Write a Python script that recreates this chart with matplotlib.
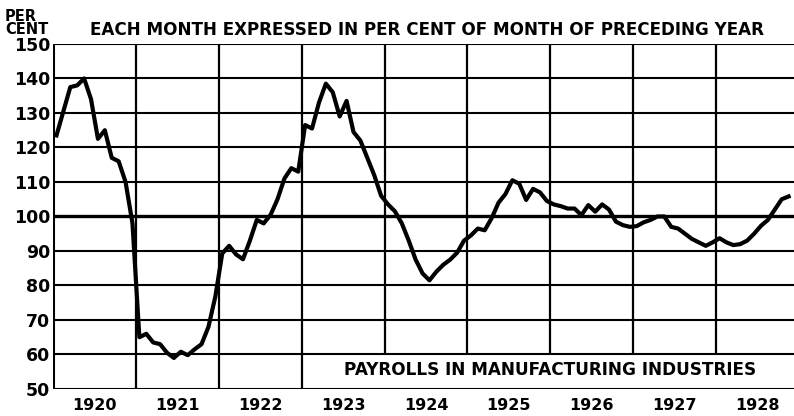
import matplotlib.pyplot as plt
import numpy as np

# monthly payrolls, each month in per cent of same month of preceding year
# Jan 1920 .. Nov 1928
payrolls = [
    123.5, 130.5, 137.5, 138, 140, 134, 122.5, 125, 117, 116, 110, 98,       # 1920
    65, 66, 63.5, 63, 60.5, 59, 60.8, 59.8, 61.5, 63, 68, 76.8,              # 1921
    89.3, 91.5, 89, 87.6, 93, 99, 98, 100.5, 105, 111, 114, 113,             # 1922
    126.5, 125.5, 133, 138.5, 136, 129, 133.5, 124.5, 122, 117, 112, 106,    # 1923
    103.5, 101.5, 98, 93, 87.5, 83.5, 81.5, 84, 86, 87.5, 89.5, 93,          # 1924
    94.5, 96.5, 96, 99.5, 104, 106.5, 110.5, 109.5, 104.8, 108, 107, 104.5,  # 1925
    103.5, 103, 102.3, 102.3, 100.4, 103.3, 101.4, 103.5, 102, 98.5, 97.5, 97,  # 1926
    97.2, 98.3, 99, 100, 100, 97, 96.5, 95, 93.5, 92.5, 91.5, 92.5,          # 1927
    93.7, 92.5, 91.7, 92, 93, 95, 97.3, 99, 102, 105, 105.8,                 # 1928
]
years = list(range(1920, 1929))
yticks = list(range(50, 160, 10))

t = 1920 + np.arange(len(payrolls)) / 12 + 1 / 24

fig = plt.figure(figsize=(7.94, 4.16), dpi=100)
ax = fig.add_axes([0.0668, 0.0649, 0.9332, 0.8294])
ax.set_xlim(1920, 1928.94)
ax.set_ylim(50, 150)

# horizontal rules
for v in yticks:
    lw = 2.4 if v == 100 else 1.5
    ax.axhline(v, color='black', lw=lw, zorder=1)

# year rules; from 1924 on they stop at 60 to leave room for the caption
for yr in years[1:]:
    lo = 50 if yr <= 1923 else 60
    ax.vlines(yr, lo, 150, color='black', lw=1.6, zorder=1)
ax.vlines(1920, 50, 150, color='black', lw=2.2, zorder=1)

ax.plot(t, payrolls, color='black', lw=3.0, solid_joinstyle='round', zorder=3)

for s in ax.spines.values():
    s.set_visible(False)
ax.set_xticks([])
ax.set_yticks(yticks)
ax.set_yticklabels([str(v) for v in yticks], fontsize=12.5, fontweight='heavy')
ax.tick_params(axis='y', length=0, pad=2)

for yr in years:
    ax.text(yr + 0.5, 47.4, str(yr), ha='center', va='top', fontsize=11.5,
            fontweight='heavy')

fig.text(0.006, 0.978, 'PER\nCENT', ha='left', va='top', fontsize=10.5,
         fontweight='heavy', linespacing=0.8)
fig.text(0.538, 0.906, 'EACH MONTH EXPRESSED IN PER CENT OF MONTH OF PRECEDING YEAR',
         ha='center', va='bottom', fontsize=12.1, fontweight='heavy')
ax.text(1926.0, 55.5, 'PAYROLLS IN MANUFACTURING INDUSTRIES', ha='center',
        va='center', fontsize=12.2, fontweight='heavy')

fig.savefig('out.png', dpi=100)
